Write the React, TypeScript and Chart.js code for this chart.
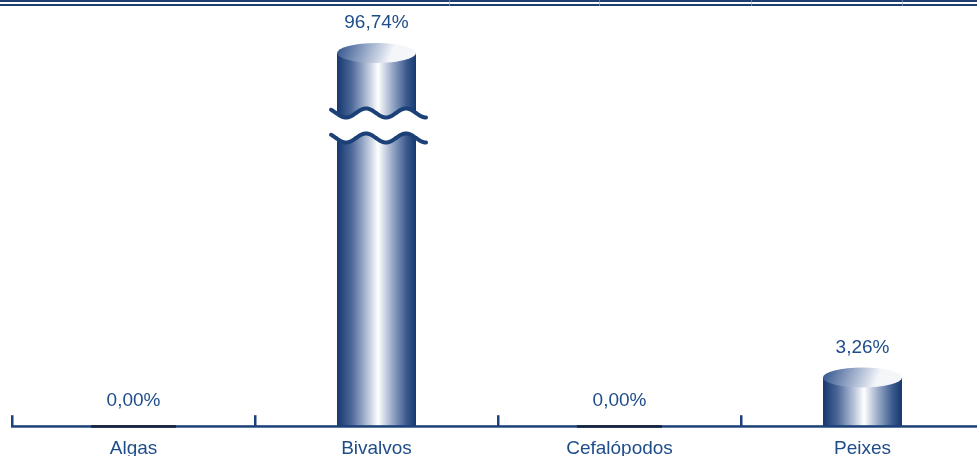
import React, { useEffect, useRef } from "react";
import { Chart, registerables } from "chart.js";

Chart.register(...registerables);

const categories = ["Algas", "Bivalvos", "Cefalópodos", "Peixes"];
const shares = [0.0, 96.74, 0.0, 3.26];
const valueLabels = ["0,00%", "96,74%", "0,00%", "3,26%"];
const Y_MAX = 25; // visible part of the (broken) value axis

const NAVY = "#1c4178";
const TEXT = "#1f4d8a";
const FONT = "'Liberation Sans', Arial, sans-serif";

const cylinderPlugin = {
  id: "cylinders",
  afterDatasetsDraw(chart: any) {
    const ctx = chart.ctx as CanvasRenderingContext2D;
    const area = chart.chartArea;
    const meta = chart.getDatasetMeta(0);
    const yScale = chart.scales.y;
    ctx.save();
    meta.data.forEach((bar: any, i: number) => {
      const v = shares[i];
      const x = bar.x;
      const w = bar.width;
      const base = bar.base;
      const l = x - w / 2;
      const r = x + w / 2;
      const ry = 10;
      let labelY: number;
      if (v === 0) {
        labelY = base - 25;
      } else {
        const top = Math.max(bar.y, area.top);
        // body
        const g = ctx.createLinearGradient(l, 0, r, 0);
        g.addColorStop(0, "#153870");
        g.addColorStop(0.18, "#4a6697");
        g.addColorStop(0.4, "#bcc7dc");
        g.addColorStop(0.52, "#ffffff");
        g.addColorStop(0.68, "#a3b2cd");
        g.addColorStop(0.88, "#3b5a8e");
        g.addColorStop(1, "#153870");
        ctx.fillStyle = g;
        ctx.fillRect(l, top, w, base - top);
        // top ellipse
        const eg = ctx.createLinearGradient(l, top - ry, x + w * 0.15, top + ry);
        eg.addColorStop(0, "#2c5088");
        eg.addColorStop(0.55, "#9aabc9");
        eg.addColorStop(1, "#f4f6fa");
        ctx.fillStyle = eg;
        ctx.beginPath();
        ctx.ellipse(x, top, w / 2, ry, 0, 0, Math.PI * 2);
        ctx.fill();
        labelY = top - ry - 20;
        // axis break
        if (v > yScale.max) {
          const y1 = top + 60;
          const y2 = top + 85;
          const amp = 4.5;
          const period = 40;
          const x0 = l - 6;
          const x1 = r + 11;
          const wave = (xx: number, c: number) =>
            c + amp * Math.cos((2 * Math.PI * (xx - (l + 9))) / period);
          ctx.fillStyle = "#ffffff";
          ctx.beginPath();
          for (let xx = x0; xx <= x1; xx += 1) {
            const yy = wave(xx, y1);
            if (xx === x0) ctx.moveTo(xx, yy);
            else ctx.lineTo(xx, yy);
          }
          for (let xx = x1; xx >= x0; xx -= 1) ctx.lineTo(xx, wave(xx, y2));
          ctx.closePath();
          ctx.fill();
          ctx.strokeStyle = NAVY;
          ctx.lineWidth = 4;
          ctx.lineCap = "round";
          [y1, y2].forEach((c) => {
            ctx.beginPath();
            for (let xx = x0; xx <= x1; xx += 1) {
              const yy = wave(xx, c);
              if (xx === x0) ctx.moveTo(xx, yy);
              else ctx.lineTo(xx, yy);
            }
            ctx.stroke();
          });
        }
      }
      ctx.fillStyle = TEXT;
      ctx.font = `19px ${FONT}`;
      ctx.textAlign = "center";
      ctx.textBaseline = "middle";
      ctx.fillText(valueLabels[i], x, labelY);
    });
    ctx.restore();
  },
  afterDraw(chart: any) {
    const ctx = chart.ctx as CanvasRenderingContext2D;
    const area = chart.chartArea;
    const xs = chart.scales.x;
    ctx.save();
    // category axis line and boundary ticks
    ctx.fillStyle = NAVY;
    ctx.fillRect(area.left - 1, area.bottom - 1, chart.width, 2.5);
    const step = (area.right - area.left) / categories.length;
    for (let i = 0; i <= categories.length; i++) {
      const tx = xs.left + i * step;
      ctx.fillRect(tx - 1, area.bottom - 11, 2.5, 11);
    }
    // zero-value bars: flat dark segment on the axis
    const meta = chart.getDatasetMeta(0);
    meta.data.forEach((bar: any, i: number) => {
      if (shares[i] === 0) {
        ctx.fillStyle = "#15223a";
        ctx.fillRect(bar.x - bar.width / 2 - 3, bar.base - 1, bar.width + 6, 2.5);
      }
    });
    // top double rule
    ctx.fillStyle = "#1f3f70";
    ctx.fillRect(0, 0, chart.width, 2);
    ctx.fillRect(0, 4, chart.width, 2);
    ctx.fillStyle = "rgba(150,170,200,0.6)";
    [449, 599, 751, 902].forEach((vx) => ctx.fillRect(vx, 0, 1, 6));
    ctx.restore();
  },
};

export default function App() {
  const ref = useRef<HTMLCanvasElement>(null);
  useEffect(() => {
    document.documentElement.style.overflow = "hidden";
    document.body.style.overflow = "hidden";
    const chart = new Chart(ref.current!, {
      type: "bar",
      data: {
        labels: categories,
        datasets: [
          {
            data: shares,
            backgroundColor: "rgba(0,0,0,0)",
            borderWidth: 0,
            categoryPercentage: 1,
            barPercentage: 0.325,
          },
        ],
      },
      options: {
        animation: false,
        responsive: false,
        maintainAspectRatio: false,
        layout: { padding: { top: 53, left: 12, right: 6, bottom: 1 } },
        plugins: { legend: { display: false }, tooltip: { enabled: false } },
        scales: {
          x: {
            grid: { display: false, drawTicks: false },
            border: { display: false },
            ticks: { color: TEXT, font: { family: FONT, size: 19 }, padding: 11 },
          },
          y: { display: false, min: 0, max: Y_MAX },
        },
      },
      plugins: [cylinderPlugin],
    });
    return () => chart.destroy();
  }, []);
  return (
    <div style={{ position: "fixed", left: 0, top: 0, width: 990, height: 472 }}>
      <canvas ref={ref} width={990} height={472} style={{ display: "block" }} />
    </div>
  );
}
